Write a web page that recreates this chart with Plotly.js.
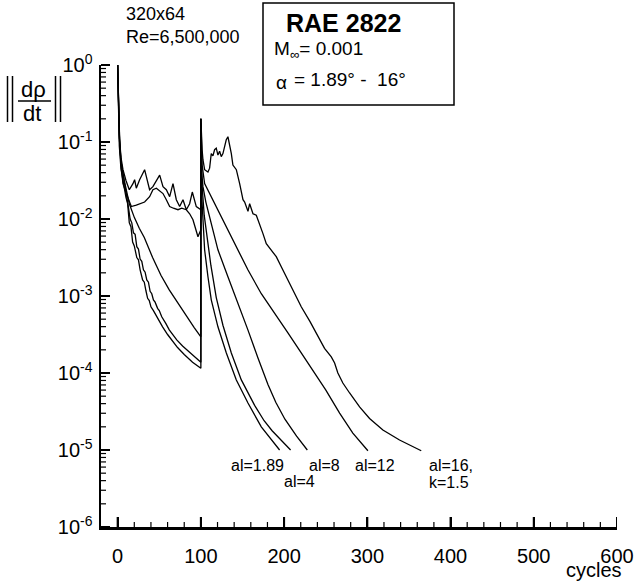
<!DOCTYPE html>
<html><head><meta charset="utf-8">
<script src="https://cdn.plot.ly/plotly-3.0.1.min.js"></script>
<style>html,body{margin:0;padding:0;background:#fff}#chart{width:634px;height:582px}</style>
</head><body><div id="chart"></div>
<script>
// ---- data (cycles, residual) ----
const caseLabels = ["al=1.89", "al=4", "al=8", "al=12", "al=16, k=1.5"];

const cycA = [0,1,2,4,7,10,12,14,16,18,20,23,25,27,30,32,34,36,38,40,43,47,50,54,60,66,72,80,90,100,
  100,101,102.5,104.5,108.5,112.5,120.5,130.6,142.6,156.6,172.6,184.6,194.6];
const resA = [1,0.251,0.0891,0.0447,0.0282,0.0191,0.0158,0.00891,0.00794,0.00501,0.00447,0.00316,0.00295,0.00219,0.00162,0.00151,0.00117,0.000933,0.000871,0.000724,0.000646,0.000537,0.000490,0.000398,0.000316,0.000257,0.000214,0.000174,0.000138,0.000115,
  0.178,0.0200,0.00794,0.00398,0.00178,0.000891,0.000398,0.000182,0.0000813,0.0000407,0.0000200,0.0000135,0.0000100];

const cycB = [0,1,2,4,7,10,13,15,17,19,21,23,25,27,29,31,33,35,37,39,41,43,45,48,50,53,55,58,62,66,71,78,85,92,100,
  100,101,104,108,112,118.5,126.5,136.6,148.6,164.6,176,185.6,197.6,207.8];
const resB = [1,0.282,0.112,0.0562,0.0355,0.0251,0.0141,0.0100,0.00891,0.00661,0.00631,0.00437,0.00407,0.00302,0.00282,0.00219,0.00204,0.00162,0.00151,0.00115,0.00107,0.000891,0.000832,0.000692,0.000646,0.000537,0.000501,0.000437,0.000363,0.000316,0.000269,0.000224,0.000191,0.000162,0.000138,
  0.200,0.0316,0.0112,0.00501,0.00251,0.000955,0.000417,0.000182,0.0000813,0.0000380,0.0000240,0.0000178,0.0000129,0.0000100];

const cycC = [0,1,2,4,8,14,20,26,32,42,52,62,72,82,92,100,
  100,101,102.5,106,112.6,120.5,132.5,144.5,156.5,168.5,180.6,190,201,215,227.9];
const resC = [1,0.316,0.126,0.0562,0.0316,0.0158,0.0105,0.00759,0.00575,0.00316,0.00186,0.00120,0.000813,0.000562,0.000389,0.000295,
  0.200,0.0398,0.0263,0.0166,0.00891,0.00398,0.00178,0.000813,0.000363,0.000158,0.0000708,0.0000417,0.0000251,0.0000151,0.0000100];

const cycD = [0,1,2.4,4,6.4,10,14,18.4,20.4,22.4,26.4,32.4,34.4,38.4,42.4,46.5,50.5,54.5,58.5,62.5,66.5,70.5,74.5,78.5,82.5,86.5,89.7,94.5,100,
  100,101.5,104.5,110.5,116.5,124.5,132.5,140.5,148.6,156.5,172.6,188.6,204.6,220.6,236.6,250,266.7,282.6,300.7];
const resD = [1,0.316,0.107,0.0631,0.0437,0.0316,0.0240,0.0288,0.0324,0.0251,0.0324,0.0437,0.0355,0.0240,0.0263,0.0316,0.0372,0.0263,0.0240,0.0195,0.0288,0.0178,0.0145,0.0178,0.0132,0.0158,0.0224,0.0145,0.0132,
  0.200,0.0501,0.0288,0.0214,0.0158,0.0107,0.00724,0.00479,0.00324,0.00219,0.00107,0.000603,0.000331,0.000182,0.000100,0.0000603,0.0000302,0.0000166,0.00000977];

const cycE = [0,1,2.4,4,6.4,10.4,16.4,22.4,27,32.4,38.4,42.4,46.5,50.5,54.5,58.5,62.5,67,72.5,77,82.5,86.5,90.5,93.5,96.5,100,
  100,101.5,102.5,104.5,108.5,110.5,112.5,114.5,116.5,118.5,120.5,122.5,124.5,126.5,128.5,130.5,132.5,134.5,136.6,138.5,142.6,146.6,150.6,152.6,156.6,158.6,160.6,162.6,166.6,170.6,174.6,178.6,184.6,190.6,196.6,208.6,220.6,231,242.6,248.6,256.7,260.7,264.6,270.6,278.7,290.7,302.7,318.7,338.7,364.8];
const resE = [1,0.282,0.100,0.0501,0.0288,0.0214,0.0145,0.0151,0.0158,0.0166,0.0195,0.0240,0.0251,0.0234,0.0214,0.0178,0.0145,0.0138,0.0132,0.0138,0.0132,0.0117,0.00977,0.00759,0.00589,0.00724,
  0.200,0.0794,0.0589,0.0437,0.0407,0.0457,0.0708,0.0661,0.0794,0.0832,0.0676,0.0759,0.0646,0.0708,0.0871,0.107,0.117,0.0955,0.0708,0.0501,0.0437,0.0288,0.0178,0.0166,0.0126,0.0158,0.0132,0.0117,0.0112,0.00871,0.00646,0.00479,0.00398,0.00324,0.00240,0.00132,0.000724,0.000468,0.000269,0.000209,0.000162,0.000135,0.000100,0.0000741,0.0000550,0.0000363,0.0000257,0.0000182,0.0000135,0.00000977];

const yTickVals = [1e-6,1e-5,1e-4,1e-3,1e-2,1e-1,1];
const yTickText = ["10<sup>-6</sup>","10<sup>-5</sup>","10<sup>-4</sup>","10<sup>-3</sup>","10<sup>-2</sup>","10<sup>-1</sup>","10<sup>0</sup>"];
const xTickVals = [0,100,200,300,400,500,600];
const xTickText = ["0","100","200","300","400","500","600"];
const xMinorStep = 20;

// ---- layout helpers ----
const W=634,H=582,ML=101,MR=17,MT=65,MB=55;
const PW=W-ML-MR, PH=H-MT-MB;
const fx = x => (x-ML)/PW;
const fy = y => (H-MB-y)/PH;
const YLOG0 = -6, YLOG1 = 0, XR0 = -20, XR1 = 600;
const TICKC = '#000';

const series = [[cycA,resA],[cycB,resB],[cycC,resC],[cycD,resD],[cycE,resE]];
const traces = series.map((s,i)=>({
  x:s[0], y:s[1], type:'scatter', mode:'lines', name:caseLabels[i],
  line:{color:'#000', width:1.3}, hoverinfo:'skip'
}));

// tick marks (drawn as shapes, pointing inward)
const tickShapes = [];
const yp = v => (Math.log10(v)-YLOG0)/(YLOG1-YLOG0);
const xPer = (XR1-XR0)/PW; // data units per pixel on x
yTickVals.forEach(v=>tickShapes.push({type:'line', layer:'above', xref:'x', yref:'paper', x0:XR0, x1:XR0+9*xPer, y0:yp(v), y1:yp(v), line:{color:TICKC, width:2}}));
for (let e=YLOG0;e<YLOG1;e++) for (let m=2;m<=9;m++){
  const v = m*Math.pow(10,e);
  tickShapes.push({type:'line', layer:'above', xref:'x', yref:'paper', x0:XR0, x1:XR0+5*xPer, y0:yp(v), y1:yp(v), line:{color:TICKC, width:1.2}});
}
xTickVals.forEach(v=>tickShapes.push({type:'line', xref:'x', yref:'paper', x0:v, x1:v, y0:0, y1:10/PH, line:{color:TICKC, width:2}}));
for (let v=XR0+xMinorStep; v<XR1; v+=xMinorStep){
  if (v%100===0) continue;
  tickShapes.push({type:'line', xref:'x', yref:'paper', x0:v, x1:v, y0:0, y1:5/PH, line:{color:TICKC, width:1.2}});
}

const FONT = 'Liberation Sans, Arial, Helvetica, sans-serif';
function ann(text, x, y, size, xanchor, extra){
  return Object.assign({text:text, xref:'paper', yref:'paper', x:fx(x), y:fy(y),
    xanchor:xanchor||'left', yanchor:'middle', showarrow:false,
    font:{family:FONT, size:size, color:'#000'}}, extra||{});
}
function vline(x,y0,y1,w){
  return {type:'line', xref:'paper', yref:'paper', x0:fx(x), x1:fx(x), y0:fy(y0), y1:fy(y1), line:{color:'#000', width:w||1.5}};
}

const layout = {
  width:W, height:H,
  margin:{l:ML, r:MR, t:MT, b:MB, pad:0},
  paper_bgcolor:'#fff', plot_bgcolor:'#fff',
  showlegend:false, hovermode:false,
  font:{family:FONT, size:20, color:'#000'},
  xaxis:{
    type:'linear', range:[XR0,XR1], showgrid:false, zeroline:false,
    showline:true, linewidth:2.5, linecolor:'#000',
    tickmode:'array', tickvals:xTickVals, ticktext:xTickText,
    ticks:'inside', ticklen:10, tickwidth:2, tickcolor:'#000',
    ticklabelstandoff:9,
    tickfont:{family:FONT, size:20, color:'#000'}
  },
  yaxis:{
    type:'log', range:[YLOG0,YLOG1], showgrid:false, zeroline:false,
    showline:true, linewidth:2.5, linecolor:'#000',
    tickmode:'array', tickvals:yTickVals, ticktext:yTickText,
    ticks:'inside', ticklen:9, tickwidth:2, tickcolor:'#000',
    ticklabelstandoff:2,
    tickfont:{family:FONT, size:20, color:'#000'}
  },
  shapes:[
    {type:'rect', xref:'paper', yref:'paper', x0:fx(263), x1:fx(454), y0:fy(3), y1:fy(105), line:{color:'#000', width:1.5}},
    vline(7.5,76,122), vline(12.5,76,122), vline(55.5,76,122), vline(60.5,76,122),
    {type:'line', xref:'paper', yref:'paper', x0:fx(18), x1:fx(51), y0:fy(101), y1:fy(101), line:{color:'#000', width:1.3}}
  ].concat(tickShapes),
  annotations:[
    ann('320x64',124,14,18),
    ann('Re=6,500,000',124,37,18),
    ann('<b>RAE 2822</b>',284,23,25),
    ann('M<sub>∞</sub>= 0.001',272,50,19),
    ann('α',274,82,19),
    ann('= 1.89° -  16°',292,80,19),
    ann('dρ',33,89,22,'center'),
    ann('dt',32,113,22,'center'),
    ann('al=1.89',229,465,16),
    ann('al=4',282,481,16),
    ann('al=8',307,465,16),
    ann('al=12',353,465,16),
    ann('al=16,',427,465,16),
    ann('k=1.5',427,482,16),
    ann('cycles',594,570,20,'center')
  ]
};

Plotly.newPlot('chart', traces, layout, {staticPlot:true, displayModeBar:false});
</script></body></html>
